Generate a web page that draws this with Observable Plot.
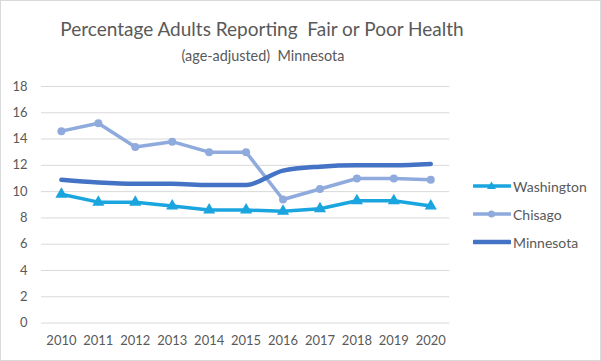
<!DOCTYPE html>
<html>
<head>
<meta charset="utf-8">
<script src="https://cdn.jsdelivr.net/npm/d3@7"></script>
<script src="https://cdn.jsdelivr.net/npm/@observablehq/plot@0.6"></script>
<style>
  html, body { margin: 0; padding: 0; background: #fff; }
  #chart { position: relative; width: 601px; height: 361px; box-sizing: border-box; border: 1px solid #d9d9d9; overflow: hidden; font-family: Lato, "Open Sans", sans-serif; color: #595959; }
  #title { position: absolute; left: 0; width: 522px; top: 16px; text-align: center; font-size: 19px; font-weight: 400; white-space: nowrap; }
  #subtitle { position: absolute; left: 0; width: 524px; top: 46px; text-align: center; font-size: 14.4px; white-space: nowrap; }
  #plot { position: absolute; left: -1px; top: 69px; }
  #legend { position: absolute; left: 472px; top: 171px; font-size: 14px; }
  .item { display: flex; align-items: center; height: 28px; }
  .item svg { margin-right: 2px; }
</style>
</head>
<body>
<div id="chart">
  <div id="title">Percentage Adults Reporting&nbsp; Fair or Poor Health</div>
  <div id="subtitle">(age-adjusted)&nbsp; Minnesota</div>
  <div id="plot"></div>
  <div id="legend"></div>
</div>
<script>
const years = ["2010","2011","2012","2013","2014","2015","2016","2017","2018","2019","2020"];
const washington = [9.8, 9.2, 9.2, 8.9, 8.6, 8.6, 8.5, 8.7, 9.3, 9.3, 8.9];
const chisago    = [14.6, 15.2, 13.4, 13.8, 13.0, 13.0, 9.4, 10.2, 11.0, 11.0, 10.9];
const minnesota  = [10.9, 10.7, 10.6, 10.6, 10.5, 10.5, 11.6, 11.9, 12.0, 12.0, 12.1];
const yTicks = [0, 2, 4, 6, 8, 10, 12, 14, 16, 18];
const seriesNames = ["Washington", "Chisago", "Minnesota"];
const colors = {Washington: "#1aa5df", Chisago: "#8faadc", Minnesota: "#4472c4"};

const rows = (name, vals) => years.map((y, i) => ({year: y, value: vals[i], series: name}));
const wa = rows("Washington", washington);
const ch = rows("Chisago", chisago);
const mn = rows("Minnesota", minnesota);

const plot = Plot.plot({
  width: 601,
  height: 292,
  marginLeft: 41,
  marginRight: 151,
  marginTop: 16,
  marginBottom: 39,
  style: {fontFamily: "Lato, 'Open Sans', sans-serif", fontSize: "13px", color: "#595959", background: "transparent"},
  x: {type: "point", domain: years, padding: 0.5, label: null},
  y: {domain: [0, 18], ticks: yTicks, label: null},
  marks: [
    Plot.gridY(yTicks, {stroke: "#d9d9d9", strokeOpacity: 1, strokeWidth: 1}),
    Plot.axisY(yTicks, {tickSize: 0, tickPadding: 14, label: null, fill: "#595959", fontSize: 13}),
    Plot.axisX(years, {tickSize: 0, tickPadding: 13, label: null, fill: "#595959", fontSize: 13}),
    Plot.line(wa, {x: "year", y: "value", stroke: colors.Washington, strokeWidth: 3.5}),
    Plot.dot(wa, {x: "year", y: "value", symbol: "triangle", r: 4.5, fill: colors.Washington}),
    Plot.line(ch, {x: "year", y: "value", stroke: colors.Chisago, strokeWidth: 3.5}),
    Plot.dot(ch, {x: "year", y: "value", symbol: "circle", r: 4, fill: colors.Chisago}),
    Plot.line(mn, {x: "year", y: "value", stroke: colors.Minnesota, strokeWidth: 4.5, curve: "monotone-x"})
  ]
});
document.getElementById("plot").appendChild(plot);

const legend = document.getElementById("legend");
const symbols = {Washington: "tri", Chisago: "circle", Minnesota: null};
seriesNames.forEach(name => {
  const div = document.createElement("div");
  div.className = "item";
  const c = colors[name];
  let sym = "";
  if (symbols[name] === "tri") sym = `<path d="M18.5,2.5 L23,10 L14,10 Z" fill="${c}"/>`;
  if (symbols[name] === "circle") sym = `<circle cx="18.5" cy="7" r="3.5" fill="${c}"/>`;
  const sw = name === "Minnesota" ? 4.5 : 3.5;
  div.innerHTML = `<svg width="38" height="14"><line x1="1" y1="7" x2="37" y2="7" stroke="${c}" stroke-width="${sw}" stroke-linecap="round"/>${sym}</svg><span>${name}</span>`;
  legend.appendChild(div);
});
</script>
</body>
</html>
